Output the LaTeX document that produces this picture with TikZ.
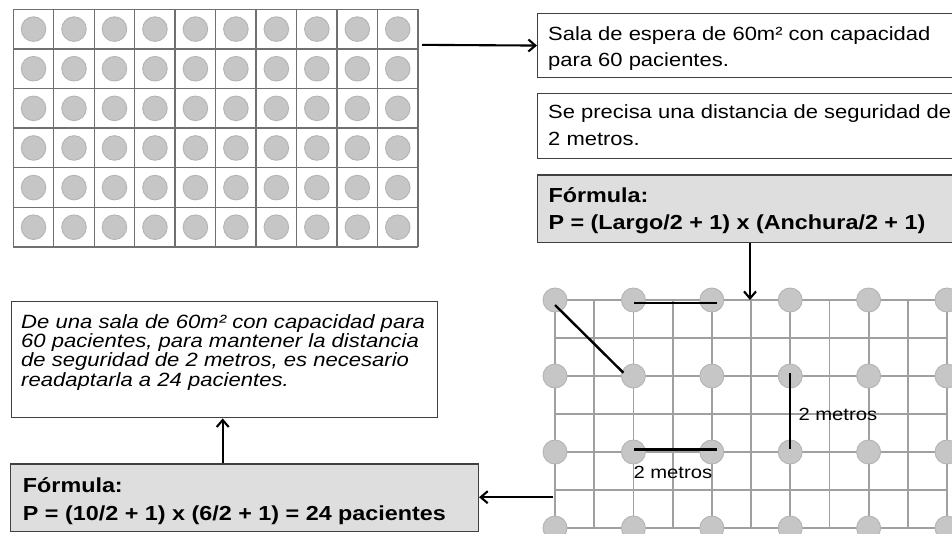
\documentclass[tikz,border=0pt]{standalone}
\usepackage{fontspec}
\setmainfont[FakeStretch=1.15]{Liberation Sans}
\usetikzlibrary{arrows.meta,calc}
\definecolor{gridA}{HTML}{707070}
\definecolor{gridB}{HTML}{A0A0A0}
\definecolor{dotfill}{HTML}{C6C6C6}
\definecolor{dotline}{HTML}{B4B4B4}
\definecolor{boxline}{HTML}{404040}
\definecolor{boxfill}{HTML}{DEDEDE}
\newcommand\fplain{\fontsize{19.1}{22}\selectfont}
\newcommand\fbold{\fontsize{20.3}{23}\selectfont\bfseries}
\newcommand\fital{\fontsize{19.2}{20}\selectfont\itshape}
\newcommand\flabel{\fontsize{17.6}{20}\selectfont}
\begin{document}
\begin{tikzpicture}[x=1pt,y=-1pt,
  gridlineA/.style={draw=gridA,line width=1.4pt},
  gridlineB/.style={draw=gridB,line width=1.8pt},
  dot/.style={fill=dotfill,draw=dotline,line width=0.9pt},
  whitebox/.style={draw=boxline,line width=1.4pt,fill=white,rectangle,inner sep=0pt,anchor=north west},
  graybox/.style={draw=boxline,line width=1.4pt,fill=boxfill,rectangle,inner sep=0pt,anchor=north west},
  txt/.style={inner sep=0pt,anchor=base west,text=black},
  arr/.style={-{Straight Barb[length=7pt,width=12pt]},line width=2.1pt,black},
  measure/.style={line width=2.4pt,black}]
\useasboundingbox (0,0) rectangle (952,533);
\clip (0,0) rectangle (952,533);
\fill[white] (0,0) rectangle (952,533);

% top-left grid
\foreach \i in {0,...,10} \draw[gridlineA] ({13.3+40.47*\i},9.3) -- ({13.3+40.47*\i},247);
\foreach \j in {0,...,6} \draw[gridlineA] (13.3,{9.3+39.62*\j}) -- (418,{9.3+39.62*\j});
\foreach \i in {0,...,9} \foreach \j in {0,...,5}
  \draw[dot] ({13.3+40.47*(\i+0.5)},{9.3+39.62*(\j+0.5)}) circle[radius=12.3];
\coordinate (gAout) at (422,44.85);

% right boxes
\node[whitebox,minimum width=463pt,minimum height=64.3pt] (b1) at (537,12.7) {};
\node[whitebox,minimum width=463pt,minimum height=65pt] (b2) at (537,93) {};
\node[graybox,minimum width=463.3pt,minimum height=67.4pt] (b3) at (536.7,174.3) {};
\node[txt,font=\fplain] (t1a) at (548,40) {Sala de espera de 60m² con capacidad};
\node[txt,font=\fplain] (t1b) at (548,66.7) {para 60 pacientes.};
\node[txt,font=\fplain] (t2a) at (548,118) {Se precisa una distancia de seguridad de};
\node[txt,font=\fplain] (t2b) at (548,145) {2 metros.};
\node[txt,font=\fbold] (t3a) at (548.3,202.3) {Fórmula:};
\node[txt,font=\fbold] (t3b) at (548.3,229.3) {P = (Largo/2 + 1) x (Anchura/2 + 1)};

\draw[arr] (gAout) -- (b1.west);

% bottom-right grid
\foreach \i in {0,...,10} \draw[gridlineB] ({555+39.2*\i},300) -- ({555+39.2*\i},528);
\foreach \j in {0,...,6} \draw[gridlineB] (555,{300+38*\j}) -- (947,{300+38*\j});
\foreach \i in {0,...,5} \foreach \j in {0,...,3}
  \draw[dot] ({555+78.4*\i},{300+76*\j}) circle[radius=12];
\coordinate (dA) at (750,300);
\draw[arr] (b3.south -| dA) -- (dA);

% measures
\coordinate (m1s) at (555,305);
\coordinate (m1e) at (623.3,372.7);
\coordinate (m2s) at (634,302.7);
\coordinate (m2e) at (716.7,302.7);
\coordinate (m3s) at (790,373.3);
\coordinate (m3e) at (790,449.3);
\coordinate (m4s) at (634,449.3);
\coordinate (m4e) at (716.7,449.3);
\draw[measure] (m1s) -- (m1e);
\draw[measure] (m2s) -- (m2e);
\draw[measure] (m3s) -- (m3e);
\draw[measure] (m4s) -- (m4e);
\node[txt,font=\flabel] (l1) at (798.3,420.5) {2 metros};
\node[txt,font=\flabel] (l2) at (633.3,478.5) {2 metros};

% bottom-left boxes
\node[whitebox,minimum width=426.3pt,minimum height=116.3pt] (it) at (10.7,300.7) {};
\node[txt,font=\fital] (i1) at (21,328.5) {De una sala de 60m² con capacidad para};
\node[txt,font=\fital] (i2) at (21,347.7) {60 pacientes, para mantener la distancia};
\node[txt,font=\fital] (i3) at (21,366.8) {de seguridad de 2 metros, es necesario};
\node[txt,font=\fital] (i4) at (21,386) {readaptarla a 24 pacientes.};

\node[graybox,minimum width=467.7pt,minimum height=67.7pt] (f2) at (10,463.3) {};
\node[txt,font=\fbold] (f2a) at (22.7,492.3) {Fórmula:};
\node[txt,font=\fbold] (f2b) at (22.7,520) {P = (10/2 + 1) x (6/2 + 1) = 24 pacientes};

\coordinate (lA) at (553,497.2);
\draw[arr] (lA) -- (lA -| f2.east);
\coordinate (upx) at (222.7,0);
\draw[arr] (f2.north -| upx) -- (it.south -| upx);
\end{tikzpicture}
\end{document}
